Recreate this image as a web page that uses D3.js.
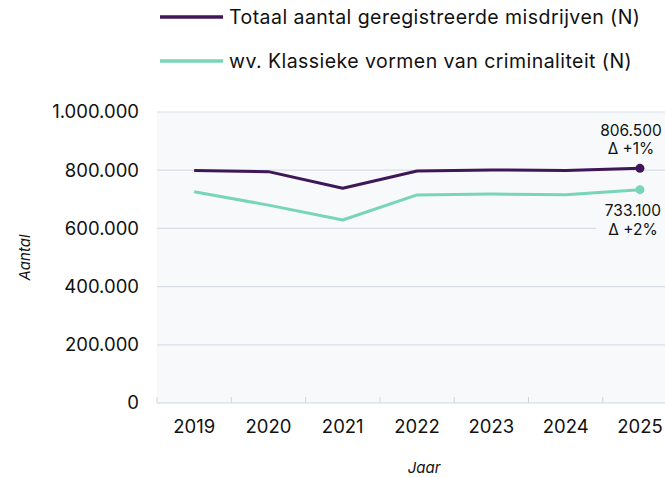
<!DOCTYPE html>
<html>
<head>
<meta charset="utf-8">
<script src="https://cdn.jsdelivr.net/npm/d3@7"></script>
<style>
  body { margin: 0; background: #fff; }
  svg { display: block; font-family: Inter, "Noto Sans", sans-serif; }
</style>
</head>
<body>
<div id="chart"></div>
<script>
const years = ["2019", "2020", "2021", "2022", "2023", "2024", "2025"];
const totaal = [799000, 795000, 738000, 797000, 801000, 799000, 806500];
const klassiek = [726000, 680000, 629000, 715000, 718000, 716000, 733100];
const yTicks = [0, 200000, 400000, 600000, 800000, 1000000];
const seriesNames = ["Totaal aantal geregistreerde misdrijven (N)", "wv. Klassieke vormen van criminaliteit (N)"];
const seriesColors = ["#3f1658", "#78d5b8"];
const endLabels = [["806.500", "Δ +1%"], ["733.100", "Δ +2%"]];

const width = 665, height = 477;
const margin = {top: 112, left: 157, bottom: 74};

const svg = d3.select("#chart").append("svg")
    .attr("width", width)
    .attr("height", height);

const x = d3.scaleBand().domain(years).range([margin.left, margin.left + 7 * 74.3]);
const y = d3.scaleLinear().domain([0, 1000000]).range([height - margin.bottom, margin.top]);

const fmt = v => d3.format(",")(v).replace(/,/g, ".");

// plot background
svg.append("rect")
    .attr("x", margin.left).attr("y", y(1000000))
    .attr("width", width - margin.left).attr("height", y(0) - y(1000000))
    .attr("fill", "#f7f9fb");

// gridlines
svg.selectAll(".grid").data(yTicks.filter(d => d > 0)).enter()
    .append("line")
    .attr("x1", margin.left).attr("x2", width)
    .attr("y1", d => y(d)).attr("y2", d => y(d))
    .attr("stroke", "#d8dee9").attr("stroke-width", 1.2);

// y labels
svg.selectAll(".ylab").data(yTicks).enter()
    .append("text")
    .attr("x", 139).attr("y", d => y(d))
    .attr("dy", "0.35em")
    .attr("text-anchor", "end")
    .attr("font-size", 18.5)
    .attr("fill", "#111")
    .text(d => fmt(d));

// x axis
const gx = svg.append("g").attr("transform", `translate(0,${y(0)})`);
gx.append("line").attr("x1", margin.left).attr("x2", width).attr("stroke", "#cfd6e3").attr("stroke-width", 1.2);
gx.selectAll(".tk").data(years).enter().append("line")
    .attr("x1", d => x(d)).attr("x2", d => x(d))
    .attr("y1", -6).attr("y2", 0)
    .attr("stroke", "#cfd6e3");
gx.selectAll(".xl").data(years).enter().append("text")
    .attr("x", d => x(d) + x.bandwidth() / 2)
    .attr("y", 30)
    .attr("text-anchor", "middle")
    .attr("font-size", 18.5)
    .attr("fill", "#111")
    .text(d => d);

// axis titles
svg.append("text")
    .attr("transform", `translate(30,${(y(0) + y(1000000)) / 2}) rotate(-90)`)
    .attr("text-anchor", "middle")
    .attr("font-size", 15).attr("font-style", "italic").attr("fill", "#111")
    .text("Aantal");
svg.append("text")
    .attr("x", 424).attr("y", 473)
    .attr("text-anchor", "middle")
    .attr("font-size", 15).attr("font-style", "italic").attr("fill", "#111")
    .text("Jaar");

// lines
const line = d3.line().x((d, i) => x(years[i]) + x.bandwidth() / 2).y(d => y(d));
[totaal, klassiek].forEach((vals, k) => {
    svg.append("path")
        .datum(vals)
        .attr("d", line)
        .attr("fill", "none")
        .attr("stroke", seriesColors[k])
        .attr("stroke-width", 3)
        .attr("stroke-linejoin", "round");
    const last = vals.length - 1;
    svg.append("circle")
        .attr("cx", x(years[last]) + x.bandwidth() / 2)
        .attr("cy", y(vals[last]))
        .attr("r", 4.5)
        .attr("fill", seriesColors[k]);
});

// end labels
const lx = 631;
const lab1 = svg.append("text").attr("text-anchor", "middle").attr("font-size", 15.5).attr("fill", "#111");
lab1.append("tspan").attr("x", lx).attr("y", y(totaal[6]) - 32).text(endLabels[0][0]);
lab1.append("tspan").attr("x", lx).attr("y", y(totaal[6]) - 14).text(endLabels[0][1]);

svg.append("rect")
    .attr("x", 596).attr("y", y(klassiek[6]) + 10)
    .attr("width", 69).attr("height", 42)
    .attr("fill", "#f7f9fb");
const lab2 = svg.append("text").attr("text-anchor", "middle").attr("font-size", 15.5).attr("fill", "#111");
lab2.append("tspan").attr("x", lx + 2).attr("y", y(klassiek[6]) + 26).text(endLabels[1][0]);
lab2.append("tspan").attr("x", lx + 2).attr("y", y(klassiek[6]) + 45).text(endLabels[1][1]);

// legend
seriesNames.forEach((name, k) => {
    const ly = 17 + k * 44;
    svg.append("line")
        .attr("x1", 160).attr("x2", 223)
        .attr("y1", ly).attr("y2", ly)
        .attr("stroke", seriesColors[k]).attr("stroke-width", 3.5);
    svg.append("text")
        .attr("x", 229).attr("y", ly)
        .attr("dy", "0.35em")
        .attr("font-size", 19.5).attr("letter-spacing", 0.45).attr("fill", "#111")
        .text(name);
});
</script>
</body>
</html>
